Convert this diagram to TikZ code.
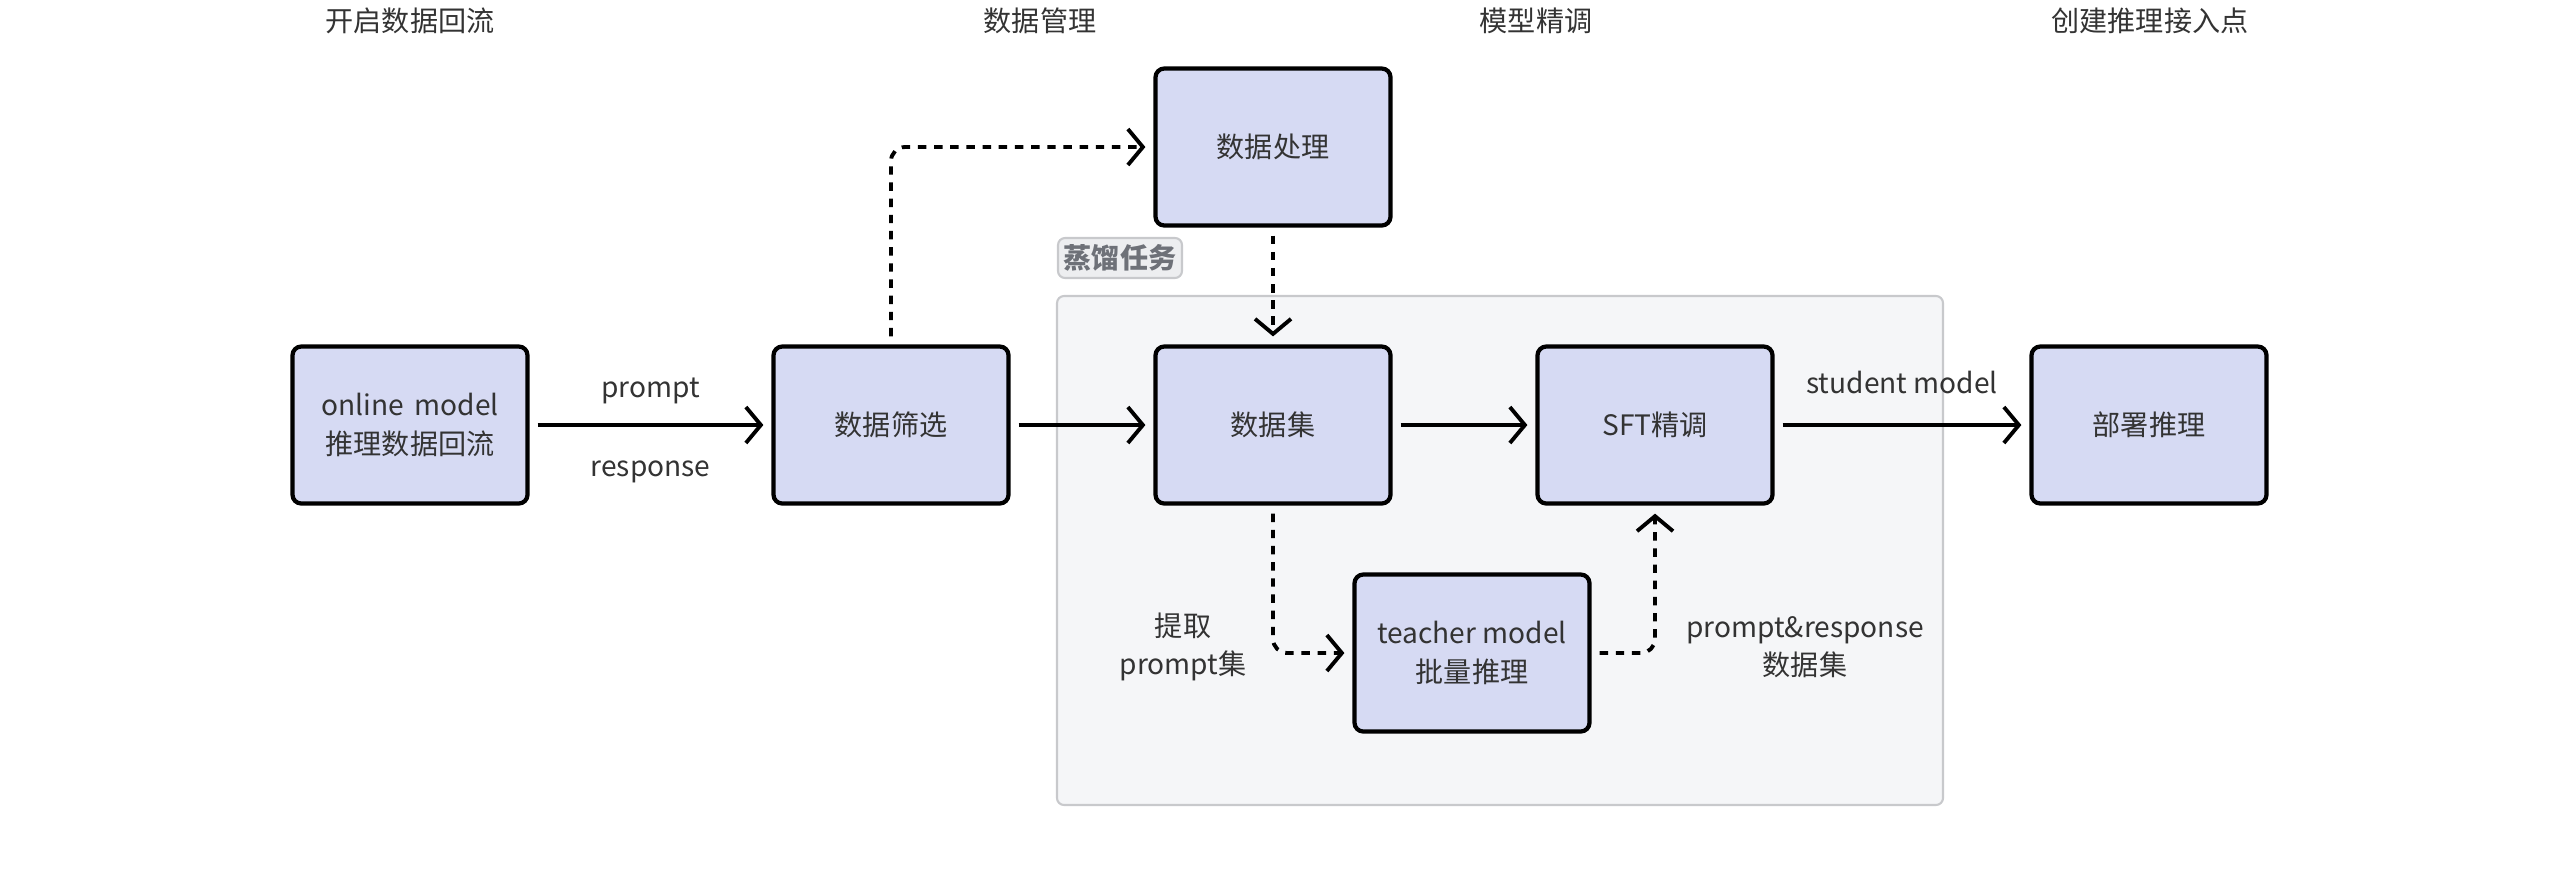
\documentclass[tikz,border=0pt]{standalone}
\usepackage{fontspec}
\setmainfont{Noto Sans CJK SC}
\usetikzlibrary{arrows.meta}
\definecolor{boxfill}{HTML}{D6DAF3}
\definecolor{textgray}{HTML}{333333}
\definecolor{groupfill}{HTML}{F5F6F8}
\definecolor{groupline}{HTML}{C8C9CC}
\definecolor{tagfill}{HTML}{EDEEF0}
\definecolor{taggray}{HTML}{6E7178}
\tikzset{
	procbox/.style={draw=black, line width=1.2pt, fill=boxfill, rounded corners=2.5pt,
		minimum width=2.35cm, minimum height=1.57cm, align=center, text=textgray},
	flow/.style={line width=1.1pt, -{Straight Barb[length=1.5mm,width=3.6mm]},
		shorten >=0.08cm, shorten <=0.08cm},
	dflow/.style={flow, dash pattern=on 2.4pt off 2.2pt, rounded corners=4pt},
	flowlabel/.style={text=textgray, align=center}
}

\begin{document}
\begin{tikzpicture}[font=\fontsize{8}{11}\selectfont]
		\useasboundingbox (0,0) rectangle (25.61,-8.71);

		% stage titles
		\node[flowlabel] (t1) at (4.10,-0.21) {开启数据回流};
		\node[flowlabel] (t2) at (10.40,-0.21) {数据管理};
		\node[flowlabel] (t3) at (15.36,-0.21) {模型精调};
		\node[flowlabel] (t4) at (21.50,-0.21) {创建推理接入点};

		% distillation group
		\draw[groupline, fill=groupfill, rounded corners=2pt, line width=0.6pt] (10.57,-2.96) rectangle (19.43,-8.05);
		\node[draw=groupline, fill=tagfill, rounded corners=2pt, line width=0.6pt, text=taggray,
			minimum width=1.24cm, minimum height=0.40cm, inner sep=1pt, font=\fontsize{8}{11}\selectfont\bfseries] (tag) at (11.20,-2.58) {蒸馏任务};

		% boxes
		\node[procbox] (online) at (4.10,-4.25) {online\, model\\推理数据回流};
		\node[procbox] (filter) at (8.91,-4.25) {数据筛选};
		\node[procbox] (proc) at (12.73,-1.47) {数据处理};
		\node[procbox] (dset) at (12.73,-4.25) {数据集};
		\node[procbox] (sft) at (16.55,-4.25) {SFT精调};
		\node[procbox] (deploy) at (21.49,-4.25) {部署推理};
		\node[procbox] (teacher) at (14.72,-6.53) {teacher model\\批量推理};

		% solid flow
		\draw[flow] (online) -- (filter)
			node[flowlabel, midway, yshift=0.34cm] {prompt}
			node[flowlabel, midway, yshift=-0.47cm] {response};
		\draw[flow] (filter) -- (dset);
		\draw[flow] (dset) -- (sft);
		\draw[flow] (sft) -- (deploy)
			node[flowlabel, midway, yshift=0.43cm] {student model};

		% dashed flow
		\draw[dflow] (filter.north) |- (proc.west);
		\draw[dflow] (proc) -- (dset);
		\draw[dflow] (dset.south) |- (teacher.west);
		\draw[dflow] (teacher.east) -| (sft.south);

		\node[flowlabel] (lbl1) at (11.83,-6.47) {提取\\prompt集};
		\node[flowlabel] (lbl2) at (18.05,-6.47) {prompt\&response\\数据集};
\end{tikzpicture}
\end{document}
